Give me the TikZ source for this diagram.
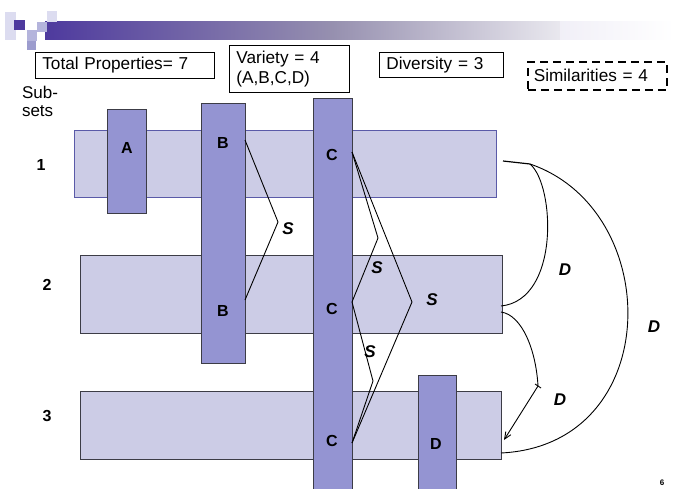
\documentclass[tikz,border=0pt]{standalone}
\usepackage{fontspec}
\setmainfont{Liberation Sans}
\usetikzlibrary{arrows.meta}
\definecolor{rowfill}{HTML}{CCCCE6}
\definecolor{barfill}{HTML}{9494D2}
\definecolor{rowedge1}{HTML}{5A5AA8}
\definecolor{edgegray}{HTML}{3C3C46}
\definecolor{deeppurple}{HTML}{4E3A9E}
\definecolor{palelav}{HTML}{DCDCF0}
\definecolor{midlav}{HTML}{B4B4DC}
\definecolor{lav}{HTML}{9C9CCE}
\tikzset{
  rowbox/.style={draw=edgegray, line width=0.9pt, fill=rowfill, anchor=north west, inner sep=0pt},
  barbox/.style={draw=edgegray, line width=0.9pt, fill=barfill, anchor=north west, inner sep=0pt},
  infobox/.style={draw=black, line width=0.7pt, anchor=north west, inner sep=0pt, font=\fontsize{17.2}{20}\selectfont, align=left},
  barlabel/.style={font=\fontsize{16}{18}\selectfont\bfseries},
  rowlabel/.style={font=\fontsize{16}{18}\selectfont\bfseries},
  rellabel/.style={font=\fontsize{17}{18}\selectfont\bfseries\itshape},
  link/.style={line width=0.9pt, black},
}
\begin{document}
\begin{tikzpicture}[x=1pt, y=-1pt]
\useasboundingbox (0,0) rectangle (674,489);
\fill[white] (0,0) rectangle (674,489);

% title bar decoration
\shade[left color=deeppurple, right color=white, middle color=deeppurple!45!gray!70]
  (45,22) rectangle (620,40);
\fill[white] (560,22) rectangle (674,40);
\shade[left color=deeppurple!8!white, right color=white] (560,22) rectangle (674,40);
\fill[palelav] (5,12) rectangle (16,40);
\fill[palelav] (47,11) rectangle (57,22);
\fill[midlav] (37,22) rectangle (47,32);
\fill[midlav] (27,30) rectangle (37,41);
\fill[lav] (27,41) rectangle (36,50);
\fill[deeppurple] (14,20) rectangle (25,30);

% summary boxes
\node[infobox, minimum width=177, minimum height=26, text width=165, inner xsep=7] (tot) at (35,52) {Total Properties= 7};
\node[infobox, minimum width=117, minimum height=47, text width=106, inner xsep=7] (var) at (229,45) {Variety = 4\\(A,B,C,D)};
\node[infobox, minimum width=122, minimum height=25, text width=110, inner xsep=7] (div) at (379,52) {Diversity = 3};
\node[infobox, dashed, dash pattern=on 8pt off 5pt, line width=1.6pt, minimum width=139, minimum height=28, text width=127, inner xsep=6] (sim) at (527,61) {Similarities = 4};

% subset rows
\node[rowbox, draw=rowedge1, minimum width=422, minimum height=67] (r1) at (74,130) {};
\node[rowbox, minimum width=422, minimum height=78] (r2) at (80,255) {};
\node[rowbox, minimum width=421, minimum height=68] (r3) at (80,391) {};

% property bars
\node[barbox, minimum width=39, minimum height=104] (pa) at (107,109) {};
\node[barbox, minimum width=44, minimum height=260] (pb) at (201,103) {};
\node[barbox, minimum width=39, minimum height=400] (pc) at (313,98) {};
\node[barbox, minimum width=38, minimum height=120] (pd) at (418,375) {};

% labels
\node[font=\fontsize{17}{19}\selectfont, align=left] (sub) at (40,101) {Sub-\\[-1pt]sets};
\node[rowlabel] (n1) at (41,165) {1};
\node[rowlabel] (n2) at (47,285) {2};
\node[rowlabel] (n3) at (47,416) {3};

\node[barlabel] (la) at (127,148) {A};
\node[barlabel] (lb1) at (223,143) {B};
\node[barlabel] (lb2) at (223,311) {B};
\node[barlabel] (lc1) at (332,155) {C};
\node[barlabel] (lc2) at (332,309) {C};
\node[barlabel] (lc3) at (332,441) {C};
\node[barlabel] (ld) at (436,444) {D};

% similarity links
\coordinate (b1) at (245,140);
\coordinate (b2) at (245,300);
\coordinate (sb) at (278,222);
\coordinate (c1) at (352,152);
\coordinate (c2) at (352,302);
\coordinate (c3) at (352,443);
\coordinate (sc12) at (378,238);
\coordinate (sc13) at (412,302);
\coordinate (sc23) at (373,381);
\draw[link] (b1) -- (sb) -- (b2);
\draw[link] (c1) -- (sc12) -- (c2);
\draw[link] (c1) -- (sc13) -- (c3);
\draw[link] (c2) -- (sc23) -- (c3);
\node[rellabel] (s1) at (288,229) {S};
\node[rellabel] (s2) at (377,268) {S};
\node[rellabel] (s3) at (432,300) {S};
\node[rellabel] (s4) at (370,352) {S};

% diversity links
\coordinate (d1s) at (503,161);
\coordinate (d1) at (530,164);
\coordinate (d2) at (501,306);
\coordinate (d2s) at (501,312);
\coordinate (d3) at (501,453);
\coordinate (dk) at (538,386);
\coordinate (d3a) at (504,440);
\draw[link, line width=1.2pt] (d1s) -- (d1);
\draw[link] (d1) .. controls (555,185) and (560,300) .. (d2);
\draw[link] (d1) .. controls (665,210) and (665,445) .. (d3);
\draw[link] (d2s) .. controls (522,315) and (536,350) .. (dk);
\draw[link] (535,384) -- (541,388);
\draw[link, -{Straight Barb[length=7pt, width=6pt]}] (dk) -- (d3a);
\node[rellabel] (dl1) at (565,270) {D};
\node[rellabel] (dl2) at (654,327) {D};
\node[rellabel] (dl3) at (560,400) {D};

\node[font=\fontsize{8}{9}\selectfont\bfseries] (pg) at (662,483) {6};
\end{tikzpicture}
\end{document}
